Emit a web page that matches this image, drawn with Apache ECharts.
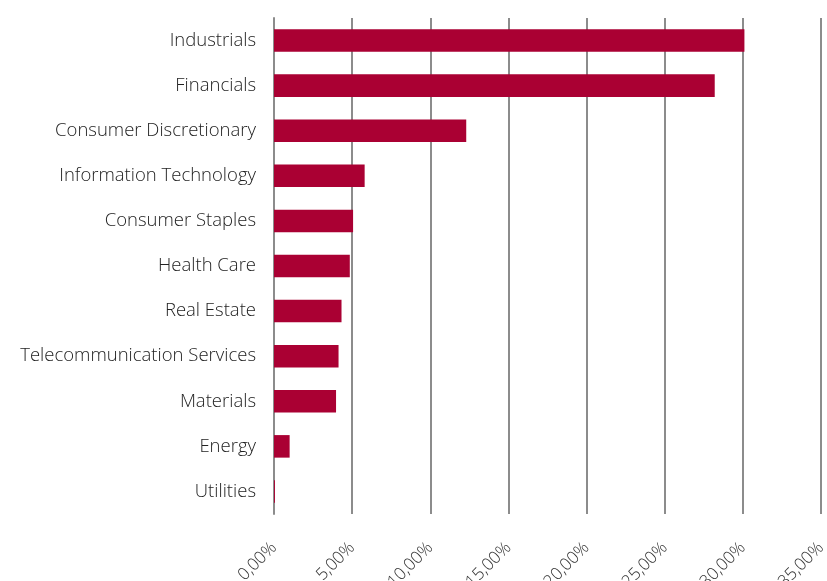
<!DOCTYPE html>
<html><head><meta charset="utf-8">
<script src="https://cdn.jsdelivr.net/npm/echarts@6/dist/echarts.min.js"></script>
<style>html,body{margin:0;padding:0;background:#fff}#c{width:827px;height:581px}</style>
</head><body><div id="c"></div>
<script>
const categories = ["Industrials","Financials","Consumer Discretionary","Information Technology","Consumer Staples","Health Care","Real Estate","Telecommunication Services","Materials","Energy","Utilities"];
const values = [30.1, 28.2, 12.3, 5.8, 5.06, 4.85, 4.32, 4.13, 3.97, 1.0, 0.06];
const tickLabels = ["0,00%","5,00%","10,00%","15,00%","20,00%","25,00%","30,00%","35,00%"];

const chart = echarts.init(document.getElementById('c'));
chart.setOption({
  animation: false,
  grid: {left: 274, right: 6, top: 18, bottom: 67, containLabel: false, outerBoundsMode: 'none'},
  xAxis: {
    type: 'value', min: 0, max: 35, interval: 5,
    axisLine: {show: false}, axisTick: {show: false},
    splitLine: {show: true, lineStyle: {color: '#8c8c8c', width: 2}},
    axisLabel: {
      rotate: 45, margin: 31, color: '#333', fontFamily: 'Open Sans', fontWeight: 300, fontSize: 17,
      formatter: v => tickLabels[Math.round(v / 5)]
    }
  },
  yAxis: {
    type: 'category', data: categories, inverse: true,
    axisLine: {show: true, lineStyle: {color: '#8c8c8c', width: 2}},
    axisTick: {show: false},
    axisLabel: {margin: 18, color: '#222', fontFamily: 'Open Sans', fontWeight: 300, fontSize: 18.5}
  },
  series: [{
    type: 'bar', data: values, barWidth: '50%',
    itemStyle: {color: '#AA0033'}
  }]
});
</script></body></html>
